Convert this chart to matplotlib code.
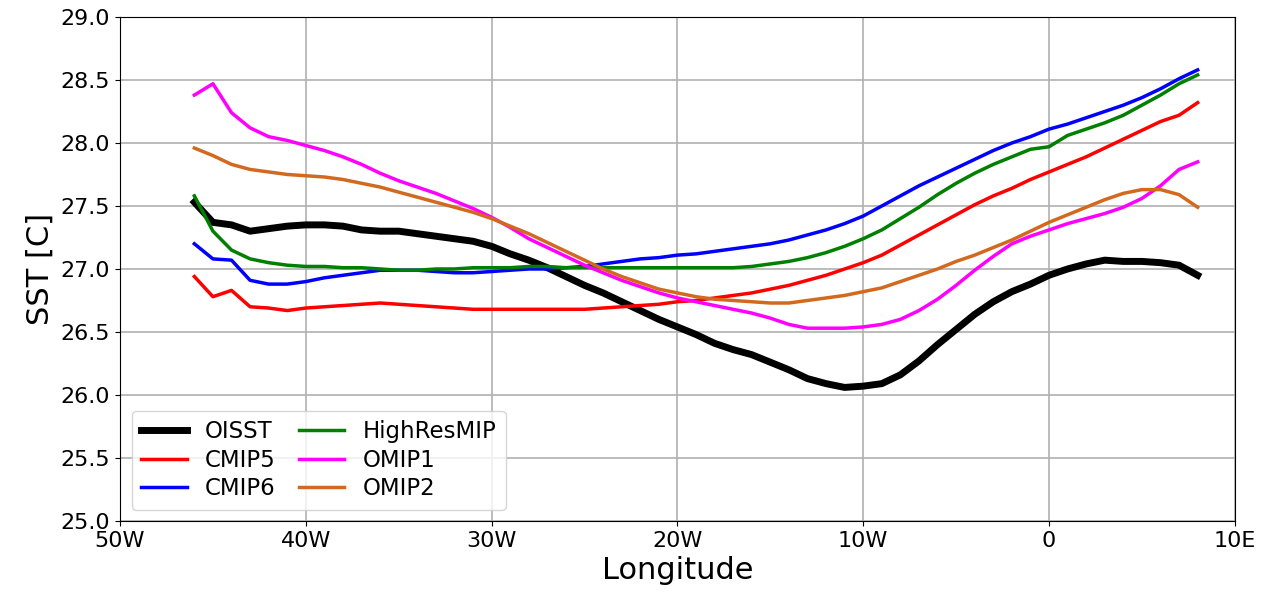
import matplotlib
matplotlib.use('Agg')

import numpy as np
import matplotlib.pyplot as plt

# longitude, degrees east (negative = west)
lon = list(range(-46, 9))

oisst = [27.53, 27.37, 27.35, 27.30, 27.32, 27.34, 27.35, 27.35, 27.34, 27.31,
         27.30, 27.30, 27.28, 27.26, 27.24, 27.22, 27.18, 27.12, 27.07, 27.01,
         26.94, 26.87, 26.81, 26.74, 26.67, 26.60, 26.54, 26.48, 26.41, 26.36,
         26.32, 26.26, 26.20, 26.13, 26.09, 26.06, 26.07, 26.09, 26.16, 26.27,
         26.40, 26.52, 26.64, 26.74, 26.82, 26.88, 26.95, 27.00, 27.04, 27.07,
         27.06, 27.06, 27.05, 27.03, 26.95]

cmip5 = [26.94, 26.78, 26.83, 26.70, 26.69, 26.67, 26.69, 26.70, 26.71, 26.72,
         26.73, 26.72, 26.71, 26.70, 26.69, 26.68, 26.68, 26.68, 26.68, 26.68,
         26.68, 26.68, 26.69, 26.70, 26.71, 26.72, 26.74, 26.75, 26.77, 26.79,
         26.81, 26.84, 26.87, 26.91, 26.95, 27.00, 27.05, 27.11, 27.19, 27.27,
         27.35, 27.43, 27.51, 27.58, 27.64, 27.71, 27.77, 27.83, 27.89, 27.96,
         28.03, 28.10, 28.17, 28.22, 28.32]

cmip6 = [27.20, 27.08, 27.07, 26.91, 26.88, 26.88, 26.90, 26.93, 26.95, 26.97,
         26.99, 26.99, 26.99, 26.98, 26.97, 26.97, 26.98, 26.99, 27.00, 27.00,
         27.01, 27.02, 27.04, 27.06, 27.08, 27.09, 27.11, 27.12, 27.14, 27.16,
         27.18, 27.20, 27.23, 27.27, 27.31, 27.36, 27.42, 27.50, 27.58, 27.66,
         27.73, 27.80, 27.87, 27.94, 28.00, 28.05, 28.11, 28.15, 28.20, 28.25,
         28.30, 28.36, 28.43, 28.51, 28.58]

highresmip = [27.58, 27.30, 27.15, 27.08, 27.05, 27.03, 27.02, 27.02, 27.01, 27.01,
              27.00, 26.99, 26.99, 27.00, 27.00, 27.01, 27.01, 27.01, 27.02, 27.02,
              27.01, 27.01, 27.01, 27.01, 27.01, 27.01, 27.01, 27.01, 27.01, 27.01,
              27.02, 27.04, 27.06, 27.09, 27.13, 27.18, 27.24, 27.31, 27.40, 27.49,
              27.59, 27.68, 27.76, 27.83, 27.89, 27.95, 27.97, 28.06, 28.11, 28.16,
              28.22, 28.30, 28.38, 28.47, 28.54]

omip1 = [28.38, 28.47, 28.24, 28.12, 28.05, 28.02, 27.98, 27.94, 27.89, 27.83,
         27.76, 27.70, 27.65, 27.60, 27.54, 27.48, 27.41, 27.33, 27.24, 27.17,
         27.10, 27.03, 26.97, 26.91, 26.86, 26.81, 26.77, 26.74, 26.71, 26.68,
         26.65, 26.61, 26.56, 26.53, 26.53, 26.53, 26.54, 26.56, 26.60, 26.67,
         26.76, 26.87, 26.99, 27.10, 27.20, 27.26, 27.31, 27.36, 27.40, 27.44,
         27.49, 27.56, 27.66, 27.79, 27.85]

omip2 = [27.96, 27.90, 27.83, 27.79, 27.77, 27.75, 27.74, 27.73, 27.71, 27.68,
         27.65, 27.61, 27.57, 27.53, 27.49, 27.45, 27.40, 27.34, 27.28, 27.21,
         27.14, 27.07, 27.00, 26.94, 26.89, 26.84, 26.81, 26.78, 26.76, 26.75,
         26.74, 26.73, 26.73, 26.75, 26.77, 26.79, 26.82, 26.85, 26.90, 26.95,
         27.00, 27.06, 27.11, 27.17, 27.23, 27.30, 27.37, 27.43, 27.49, 27.55,
         27.60, 27.63, 27.63, 27.59, 27.49]

xticks = [-50, -40, -30, -20, -10, 0, 10]
xticklabels = ['50W', '40W', '30W', '20W', '10W', '0', '10E']

fig, ax = plt.subplots(figsize=(12.73, 6), dpi=100)
fig.subplots_adjust(left=0.0943, right=0.970, top=0.9717, bottom=0.1317)

ax.plot(lon, oisst, color='black', linewidth=5, label='OISST')
ax.plot(lon, cmip5, color='red', linewidth=2.5, label='CMIP5')
ax.plot(lon, cmip6, color='blue', linewidth=2.5, label='CMIP6')
ax.plot(lon, highresmip, color='green', linewidth=2.5, label='HighResMIP')
ax.plot(lon, omip1, color='magenta', linewidth=2.5, label='OMIP1')
ax.plot(lon, omip2, color='chocolate', linewidth=2.5, label='OMIP2')

ax.set_xlim(-50, 10)
ax.set_ylim(25, 29)
ax.set_xticks(xticks)
ax.set_xticklabels(xticklabels)
ax.set_yticks(np.arange(25, 29.01, 0.5))
ax.tick_params(labelsize=16)
ax.grid(True, linewidth=1.2)
ax.set_xlabel('Longitude', fontsize=22)
ax.set_ylabel('SST [C]', fontsize=22)
ax.legend(loc='lower left', ncol=2, fontsize=16.5,
          labelspacing=0.25, columnspacing=1.0)

plt.savefig('out.png')
plt.close(fig)
